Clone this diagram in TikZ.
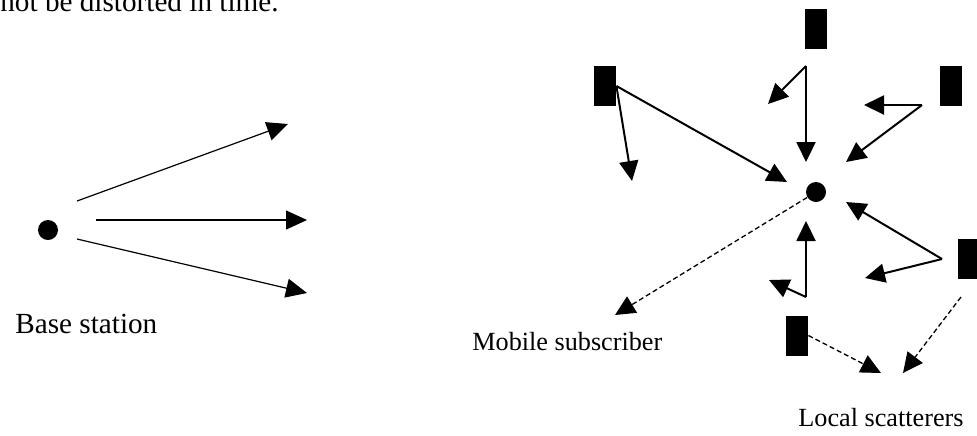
\documentclass[tikz,border=0pt]{standalone}
\usepackage{fontspec}
\setmainfont{Liberation Serif}
\usetikzlibrary{arrows.meta}

\begin{document}
\begin{tikzpicture}[x=0.5pt,y=-0.5pt,
  scat/.style={rectangle,fill=black,inner sep=0pt,minimum width=11pt,minimum height=20pt},
  dot/.style={circle,fill=black,inner sep=0pt,minimum size=10pt},
  ray/.style={line width=1pt,-{Triangle[length=10pt,width=9.5pt]}},
  beam/.style={line width=0.6pt,-{Triangle[length=10.5pt,width=9.5pt]}},
  echo/.style={line width=0.65pt,dash pattern=on 2.5pt off 1.5pt,-{Triangle[length=10pt,width=9.5pt]}},
  lbl/.style={inner sep=0pt,anchor=base west}]
\useasboundingbox (0,0) rectangle (977,435);

\node [lbl,font=\fontsize{14.6}{17}\selectfont] (cap) at (0,11.7) {not be distorted in time.};

% base station and its outgoing beams
\node [dot] (bs) at (48,230) {};
\coordinate (b1) at (77,201);  \coordinate (t1) at (288,124);
\coordinate (b2) at (96,220);  \coordinate (t2) at (307,220);
\coordinate (b3) at (77,239);  \coordinate (t3) at (307,293);
\draw [beam] (b1) -- (t1);
\draw [beam] (b2) -- (t2);
\draw [beam] (b3) -- (t3);
\node [lbl,font=\fontsize{14.6}{17}\selectfont] (bslbl) at (15,333) {Base station};

% mobile subscriber and the local scatterers
\node [dot] (ms) at (816,192) {};
\node [scat] (r1) at (605,86) {};
\node [scat] (r2) at (816,28.5) {};
\node [scat] (r3) at (950.5,86) {};
\node [scat] (r4) at (969,259) {};
\node [scat] (r5) at (797,335.5) {};

\coordinate (s2) at (806,66);
\coordinate (s3) at (922,105);
\coordinate (s4) at (942,259);
\coordinate (s5) at (806,297);
\coordinate (s6) at (961,297);

\coordinate (p1) at (632,181);  \coordinate (p2) at (787,182);
\coordinate (p3) at (806,162);  \coordinate (p4) at (768,104);
\coordinate (p5) at (864,105);  \coordinate (p6) at (846,162);
\coordinate (p7) at (846,202);  \coordinate (p8) at (865,278);
\coordinate (p9) at (806,221);  \coordinate (p10) at (769,280);
\coordinate (q1) at (615,315);  \coordinate (q2) at (881,373);
\coordinate (q3) at (903,373);

\draw [ray] (r1.east) -- (p1);
\draw [ray] (r1.east) -- (p2);
\draw [ray] (s2) -- (p3);
\draw [ray] (s2) -- (p4);
\draw [ray] (s3) -- (p5);
\draw [ray] (s3) -- (p6);
\draw [ray] (s4) -- (p7);
\draw [ray] (s4) -- (p8);
\draw [ray] (s5) -- (p9);
\draw [ray] (s5) -- (p10);

\draw [echo] (ms) -- (q1);
\draw [echo] (r5.east) -- (q2);
\draw [echo] (s6) -- (q3);

\node [lbl,font=\fontsize{13.1}{16}\selectfont] (mslbl) at (472,350) {Mobile subscriber};
\node [lbl,font=\fontsize{13.1}{16}\selectfont] (sclbl) at (798,426) {Local scatterers};
\end{tikzpicture}
\end{document}
